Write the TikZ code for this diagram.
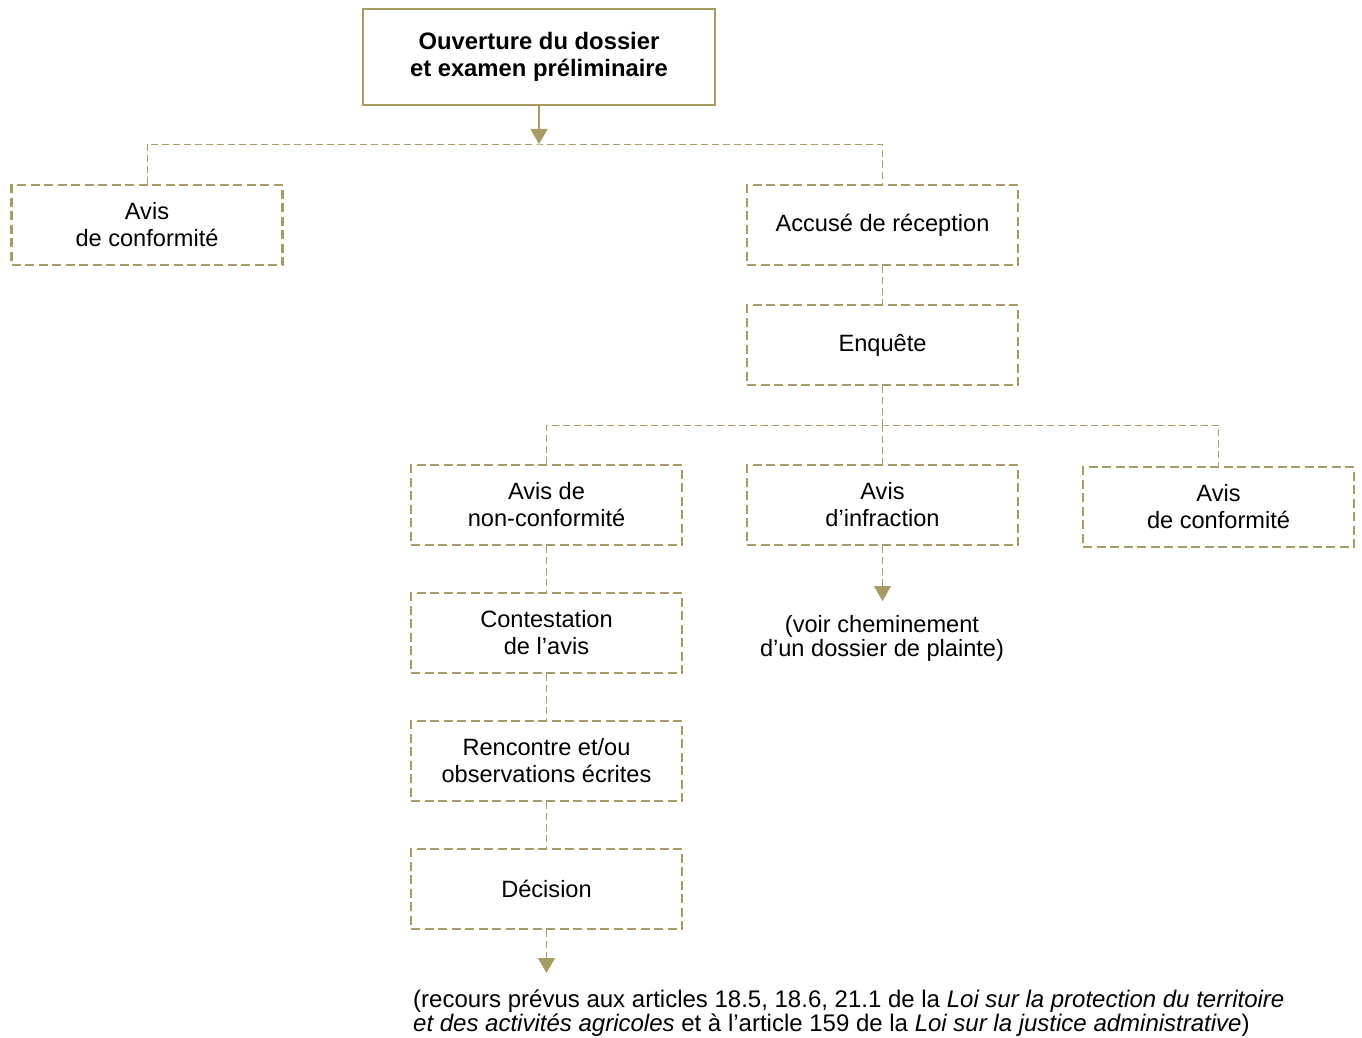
\documentclass[tikz,border=0pt]{standalone}
\usepackage{fontspec}
\setmainfont{Liberation Sans}
\usetikzlibrary{arrows.meta}
\definecolor{olive}{RGB}{168,156,100}
\tikzset{
  solidbox/.style={draw=olive, line width=2.2pt, rectangle, minimum width=352pt, minimum height=96pt, align=center, inner sep=0pt, font=\fontsize{23.8}{27}\selectfont\bfseries},
  dbox/.style={draw=olive, line width=2.4pt, dash pattern=on 9pt off 4.5pt, rectangle, minimum width=271pt, minimum height=80pt, align=center, inner sep=0pt, font=\fontsize{23.6}{27}\selectfont},
  conn/.style={draw=olive, line width=1pt, dash pattern=on 7pt off 4pt},
  tip/.style={-{Triangle[width=17pt,length=15pt]}},
  solidconn/.style={draw=olive, line width=1.5pt},
  note/.style={align=center, inner sep=0pt, font=\fontsize{23.6}{24}\selectfont}
}
\begin{document}
\begin{tikzpicture}[x=1pt,y=-1pt]
\useasboundingbox (0,0) rectangle (1362,1038);
\node[solidbox] (top) at (539,57) {Ouverture du dossier\\et examen préliminaire};
\node[dbox] (conf1) at (147,225) {Avis\\de conformité};
\node[dbox] (acc) at (882.5,225) {Accusé de réception};
\node[dbox] (enq) at (882.5,345) {Enquête};
\node[dbox] (nonconf) at (546.5,505) {Avis de\\non-conformité};
\node[dbox] (infr) at (882.5,505) {Avis\\d’infraction};
\node[dbox] (conf2) at (1218.5,507) {Avis\\de conformité};
\node[dbox] (contest) at (546.5,633) {Contestation\\de l’avis};
\node[dbox] (renc) at (546.5,761) {Rencontre et/ou\\observations écrites};
\node[dbox] (dec) at (546.5,889) {Décision};
\coordinate (h1) at (539,144);
\coordinate (h2) at (882.5,425);
\coordinate (t1) at (882.5,601);
\coordinate (t2) at (546.5,973);
\node[note] (voir) at (882,638) {(voir cheminement\\d’un dossier de plainte)};
\node[note, align=left, anchor=north west, font=\fontsize{24}{24}\selectfont] (rec) at (413,990) {(recours prévus aux articles 18.5, 18.6, 21.1 de la \textit{Loi sur la protection du territoire}\\\textit{et des activités agricoles} et à l’article 159 de la \textit{Loi sur la justice administrative})};
\draw[solidconn, -{Triangle[width=17pt,length=15pt]}] (top.south) -- (h1);
\draw[conn] (conf1.north) |- (h1) -| (acc.north);
\draw[conn] (acc.south) -- (enq.north);
\draw[conn] (enq.south) -- (h2);
\draw[conn] (nonconf.north) |- (h2) -| (conf2.north);
\draw[conn] (h2) -- (infr.north);
\draw[conn, tip] (infr.south) -- (t1);
\draw[conn] (nonconf.south) -- (contest.north);
\draw[conn] (contest.south) -- (renc.north);
\draw[conn] (renc.south) -- (dec.north);
\draw[conn, tip] (dec.south) -- (t2);
\end{tikzpicture}
\end{document}
